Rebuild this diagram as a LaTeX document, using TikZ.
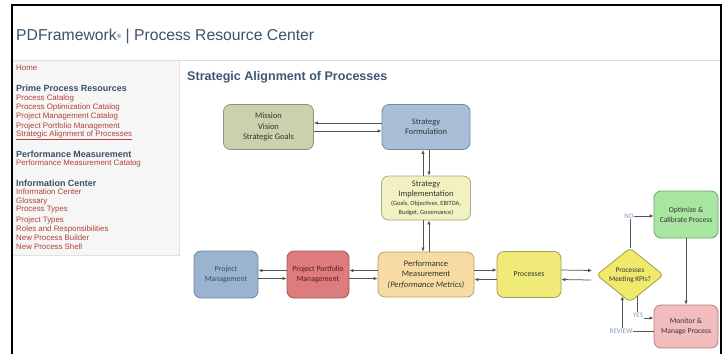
\documentclass[tikz,border=0pt]{standalone}
\usepackage{fontspec}
\setmainfont{Liberation Sans}
\newfontfamily\calfont{Carlito}
\usetikzlibrary{arrows.meta,shapes.geometric}
\definecolor{frameline}{HTML}{000000}
\definecolor{sepline}{HTML}{DDDDDD}
\definecolor{sidebg}{HTML}{F6F6F6}
\definecolor{sideborder}{HTML}{E2E2E2}
\definecolor{linkred}{HTML}{B3403A}
\definecolor{headslate}{HTML}{3C4F63}
\definecolor{titleslate}{HTML}{3E5973}
\definecolor{headergray}{HTML}{3D5368}
\definecolor{cMis}{HTML}{CBD1AC}\definecolor{cMisD}{HTML}{8E9478}
\definecolor{cSF}{HTML}{A9BFD8}\definecolor{cSFD}{HTML}{7089A6}
\definecolor{cSI}{HTML}{F2F1C2}\definecolor{cSID}{HTML}{A9A87F}
\definecolor{cPerf}{HTML}{F6DBA2}\definecolor{cPerfD}{HTML}{B89F6E}
\definecolor{cPPM}{HTML}{DC7C7C}\definecolor{cPPMD}{HTML}{A65656}
\definecolor{cPPMT}{HTML}{5A1A1A}
\definecolor{cPM}{HTML}{9AB4D0}\definecolor{cPMD}{HTML}{6B86A3}
\definecolor{cPMT}{HTML}{2F4A6A}
\definecolor{cProc}{HTML}{F0EB78}\definecolor{cProcD}{HTML}{A19E50}
\definecolor{cKPI}{HTML}{EFE96C}\definecolor{cKPID}{HTML}{A19D4C}
\definecolor{cOpt}{HTML}{A8E6A2}\definecolor{cOptD}{HTML}{6BA566}
\definecolor{cMon}{HTML}{F4BDBD}\definecolor{cMonD}{HTML}{B07E7E}
\definecolor{flowlabel}{HTML}{7F9DC4}
\definecolor{arrowgray}{HTML}{555555}
\begin{document}
\begin{tikzpicture}[x=1bp,y=-1bp,
  box/.style={rounded corners=7bp, line width=0.8bp, align=center,
    font=\calfont\fontsize{8.5}{10.5}\selectfont, text=black!80, inner sep=1bp},
  arr/.style={draw=arrowgray, line width=0.75bp, -{Latex[length=4bp,width=3.5bp]}},
  plain/.style={draw=arrowgray, line width=0.75bp},
  flowlbl/.style={font=\calfont\fontsize{7}{7}\selectfont, text=flowlabel, inner sep=0.5bp},
  sidelink/.style={anchor=west, inner sep=0pt, text=linkred, font=\fontsize{7.9}{8}\selectfont},
  sidehead/.style={anchor=west, inner sep=0pt, text=headslate, font=\bfseries\fontsize{9}{9}\selectfont}
]
\useasboundingbox (0,0) rectangle (725,354);
\fill[white] (0,0) rectangle (725,354);
% header
\node[anchor=west, inner sep=0pt, text=headergray, font=\fontsize{15.8}{16}\selectfont] (hdr) at (16,36)
  {PDFramework{\fontsize{6}{6}\selectfont\raisebox{2bp}{®}} | Process Resource Center};
\draw[sepline, line width=1bp] (13,60) -- (720,60);
% sidebar
\fill[sidebg] (13,60.5) rectangle (179,255);
\draw[sideborder, line width=1bp] (179,60.5) -- (179,255) -- (13,255);
\node[sidelink] (s0) at (16,68) {Home};
\node[sidehead] (h1) at (16,88) {Prime Process Resources};
\node[sidelink] (s1) at (16,98) {Process Catalog};
\node[sidelink] (s2) at (16,107) {Process Optimization Catalog};
\node[sidelink] (s3) at (16,116) {Project Management Catalog};
\node[sidelink] (s4) at (16,126) {Project Portfolio Management};
\node[sidelink] (s5) at (16,135) {\underline{Strategic Alignment of Processes}};
\node[sidehead] (h2) at (16,154) {Performance Measurement};
\node[sidelink] (s6) at (16,163) {Performance Measurement Catalog};
\node[sidehead] (h3) at (16,183) {Information Center};
\node[sidelink] (s7) at (16,192) {Information Center};
\node[sidelink] (s8) at (16,201) {Glossary};
\node[sidelink] (s9) at (16,210) {Process Types};
\node[sidelink] (s10) at (16,220) {Project Types};
\node[sidelink] (s11) at (16,229) {Roles and Responsibilities};
\node[sidelink] (s12) at (16,238) {New Process Builder};
\node[sidelink] (s13) at (16,247) {New Process Shell};
% frame
\draw[frameline, line width=2bp] (12,354) -- (12,5) -- (721,5) -- (721,354);
% title
\node[anchor=west, inner sep=0pt, text=titleslate, font=\bfseries\fontsize{12.6}{13}\selectfont] (title) at (187,77)
  {Strategic Alignment of Processes};
% nodes
\node[box, fill=cMis, draw=cMisD, minimum width=90bp, minimum height=45bp] (mission) at (268.5,127)
  {Mission\\Vision\\Strategic Goals};
\node[box, fill=cSF, draw=cSFD, minimum width=88bp, minimum height=45bp] (sf) at (426,127)
  {Strategy\\Formulation};
\node[box, fill=cSI, draw=cSID, minimum width=89bp, minimum height=44bp] (si) at (426,198)
  {Strategy\\Implementation\\[-1.5bp]{\fontsize{6.4}{8}\selectfont (Goals, Objectives, EBITDA,}\\[-2bp]{\fontsize{6.4}{8}\selectfont Budget, Governance)}};
\node[box, fill=cPerf, draw=cPerfD, minimum width=96bp, minimum height=45bp] (perf) at (426,274.5)
  {Performance\\Measurement\\\textit{(Performance Metrics)}};
\node[box, fill=cPPM, draw=cPPMD, minimum width=62bp, minimum height=47bp, text=cPPMT,
  font=\calfont\fontsize{7.8}{9.5}\selectfont] (ppm) at (318,274.5)
  {Project Portfolio\\Management};
\node[box, fill=cPM, draw=cPMD, minimum width=64bp, minimum height=47bp, text=cPMT,
  font=\calfont\fontsize{7.8}{9.5}\selectfont] (pm) at (226,274.5)
  {Project\\Management};
\node[box, fill=cProc, draw=cProcD, minimum width=64bp, minimum height=46bp,
  font=\calfont\fontsize{7.8}{9.5}\selectfont] (proc) at (529,274.5)
  {Processes};
\node[draw=cKPID, fill=cKPI, line width=0.8bp, shape=diamond, rounded corners=4bp, inner sep=0pt,
  minimum width=67bp, minimum height=54bp,
  label={[align=center, font=\calfont\fontsize{7.3}{9}\selectfont, text=black!80]center:Processes\\Meeting KPIs?}] (kpi) at (630,275) {};
\node[box, fill=cOpt, draw=cOptD, minimum width=64bp, minimum height=47bp,
  font=\calfont\fontsize{7.6}{10}\selectfont] (opt) at (686,214.5)
  {Optimize \&\\Calibrate Process};
\node[box, fill=cMon, draw=cMonD, minimum width=64bp, minimum height=43bp,
  font=\calfont\fontsize{7.6}{10}\selectfont] (mon) at (686,326.5)
  {Monitor \&\\Manage Process};
% flow labels
\node[flowlbl] (no) at (629,216) {NO};
\node[flowlbl] (yes) at (638,315) {YES};
\node[flowlbl] (review) at (621,331) {REVIEW};
% connectors
\draw[arr] ([yshift=4bp]sf.west) -- ([yshift=4bp]mission.east);
\draw[arr] ([yshift=-4bp]mission.east) -- ([yshift=-4bp]sf.west);
\draw[arr] ([xshift=-3bp]si.north) -- ([xshift=-3bp]sf.south);
\draw[arr] ([xshift=3bp]sf.south) -- ([xshift=3bp]si.north);
\draw[arr] ([xshift=-3bp]si.south) -- ([xshift=-3bp]perf.north);
\draw[arr] ([xshift=3bp]perf.north) -- ([xshift=3bp]si.south);
\draw[arr] ([yshift=4bp]ppm.west) -- ([yshift=4bp]pm.east);
\draw[arr] ([yshift=-4bp]pm.east) -- ([yshift=-4bp]ppm.west);
\draw[arr] ([yshift=4bp]perf.west) -- ([yshift=4bp]ppm.east);
\draw[arr] ([yshift=-4bp]ppm.east) -- ([yshift=-4bp]perf.west);
\draw[arr] ([yshift=4.5bp]perf.east) -- ([yshift=4.5bp]proc.west);
\draw[arr] ([yshift=-5bp]proc.west) -- ([yshift=-5bp]perf.east);
\draw[arr] ([yshift=4.5bp]proc.east) -- ([yshift=4.5bp,xshift=-4bp]kpi.west);
\draw[arr] ([yshift=-5bp,xshift=-5bp]kpi.west) -- ([yshift=-5bp]proc.east);
\draw[plain] (kpi.north) -- (kpi.north |- no.south);
\draw[arr] (no.east) -- (no.east -| opt.west);
\draw[arr] (opt.south) -- (mon.north);
\draw[plain] (kpi.-70) -- (kpi.-70 |- yes.north);
\draw[arr] (yes.south east) -- (yes.south east -| mon.west);
\draw[plain] (review.east -| mon.west) -- (review.east);
\draw[arr] (review.north -| kpi.-110) -- (kpi.-110);
\end{tikzpicture}
\end{document}
